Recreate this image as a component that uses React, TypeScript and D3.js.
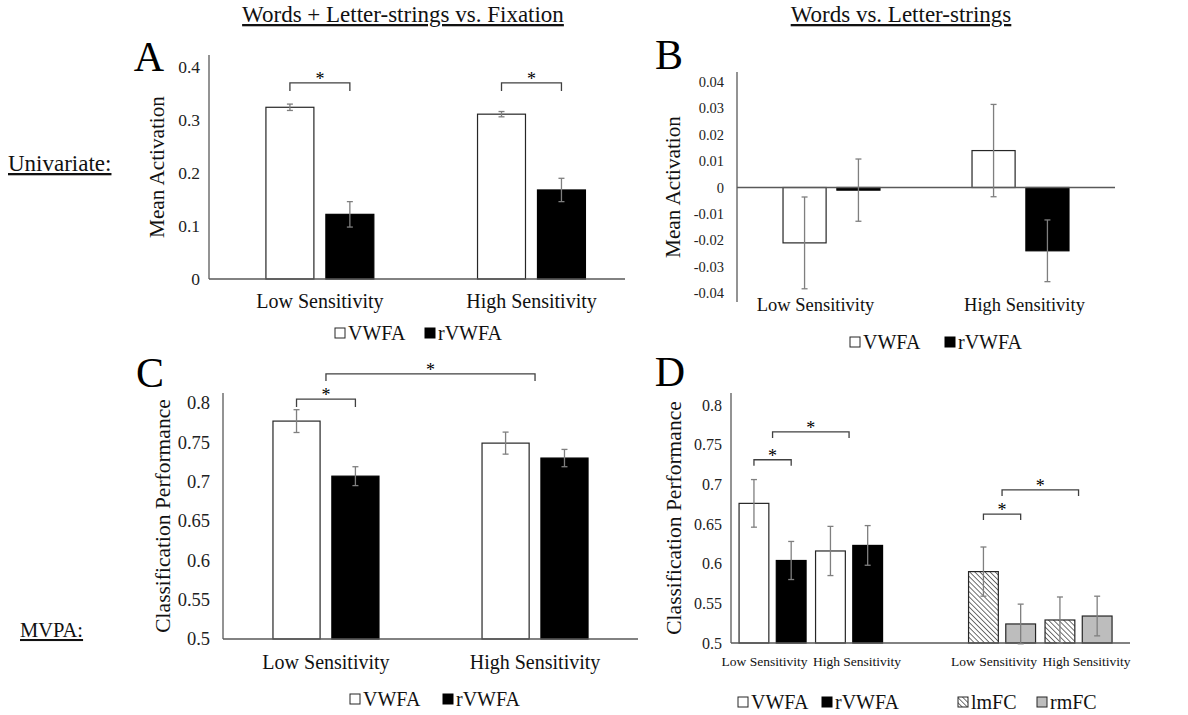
import React from 'react';
import * as d3 from 'd3';

// ---- data ----
const sensitivity = ['Low Sensitivity', 'High Sensitivity'];

// A: Words + Letter-strings vs. Fixation, univariate
const aVWFA = [0.324, 0.311];
const aVWFAErr = [0.006, 0.005];
const aRVWFA = [0.122, 0.168];
const aRVWFAErr = [0.024, 0.022];
const aTicks = [0, 0.1, 0.2, 0.3, 0.4];

// B: Words vs. Letter-strings, univariate
const bVWFA = [-0.021, 0.014];
const bVWFAErr = [0.0174, 0.0175];
const bRVWFA = [-0.001, -0.024];
const bRVWFAErr = [0.0118, 0.0117];
const bTicks = [-0.04, -0.03, -0.02, -0.01, 0, 0.01, 0.02, 0.03, 0.04];

// C: MVPA
const cVWFA = [0.777, 0.749];
const cVWFAErr = [0.0145, 0.014];
const cRVWFA = [0.707, 0.73];
const cRVWFAErr = [0.012, 0.011];
const mvpaTicks = [0.5, 0.55, 0.6, 0.65, 0.7, 0.75, 0.8];

// D: MVPA with frontal ROIs
const dVWFA = [0.676, 0.616];
const dVWFAErr = [0.03, 0.031];
const dRVWFA = [0.604, 0.623];
const dRVWFAErr = [0.024, 0.025];
const dLmFC = [0.59, 0.529];
const dLmFCErr = [0.031, 0.029];
const dRmFC = [0.524, 0.534];
const dRmFCErr = [0.025, 0.025];

const SERIF = "'Liberation Serif', 'Times New Roman', serif";

type Kind = 'white' | 'black' | 'hatch' | 'gray';
type Bar = { slot: string; sub: number; value: number; err: number; kind: Kind };
type Bracket = { from: [number, number]; to: [number, number]; level: number; drop: number };
type LegendItem = { label: string; kind: Kind; x: number };

function pairBars(slots: string[], s1: number[], e1: number[], k1: Kind, s2: number[], e2: number[], k2: Kind): Bar[] {
  const out: Bar[] = [];
  slots.forEach((slot, i) => {
    out.push({ slot, sub: 0, value: s1[i], err: e1[i], kind: k1 });
    out.push({ slot, sub: 1, value: s2[i], err: e2[i], kind: k2 });
  });
  return out;
}

const fillOf = (k: Kind) => (k === 'white' ? '#fff' : k === 'black' ? '#000' : k === 'gray' ? '#bdbdbd' : 'url(#hatch)');
const strokeOf = (k: Kind) => (k === 'black' ? '#000' : '#262626');

interface PanelCfg {
  letter: string;
  letterX: number;
  letterY: number;
  left: number;
  right: number;
  yDomain: [number, number];
  yRange: [number, number];
  axisTop: number;
  axisBottom: number;
  baseline: number;
  ticks: number[];
  tickSize: number;
  tickGap: number;
  slots: string[];
  slotLabels: string[];
  labelShift: number[];
  pi: number;
  po: number;
  align: number;
  bars: Bar[];
  brackets: Bracket[];
  yTitle: string;
  yTitleX: number;
  yTitleSize: number;
  xLabelY: number;
  xLabelSize: number;
  legend: LegendItem[];
  legendY: number;
}

function Panel({ c }: { c: PanelCfg }) {
  const y = d3.scaleLinear().domain(c.yDomain).range(c.yRange);
  const x = d3.scaleBand<string>().domain(c.slots).range([c.left, c.right])
    .paddingInner(c.pi).paddingOuter(c.po).align(c.align);
  const sub = d3.scaleBand<number>().domain([0, 1]).range([0, x.bandwidth()]).paddingInner(0.2);
  const cx = (slotIdx: number, s: number) => {
    const x0 = x(c.slots[slotIdx])!;
    return s < 0 ? x0 + x.bandwidth() / 2 : x0 + sub(s)! + sub.bandwidth() / 2;
  };
  const y0 = y(c.baseline);
  const yMid = (c.axisTop + c.axisBottom) / 2;
  return (
    <g>
      <text x={c.letterX} y={c.letterY} fontSize={42} textAnchor="middle" fontFamily={SERIF}>{c.letter}</text>
      <text transform={`translate(${c.yTitleX},${yMid}) rotate(-90)`} textAnchor="middle" dy="0.35em"
        fontSize={c.yTitleSize} fontFamily={SERIF} fill="#111">{c.yTitle}</text>
      {c.ticks.map((t) => (
        <text key={t} x={c.left - c.tickGap} y={y(t)} dy="0.35em" textAnchor="end" fontSize={c.tickSize}
          fontFamily={SERIF} fill="#222">{String(t)}</text>
      ))}
      {c.bars.map((b, i) => {
        const bx = x(b.slot)! + sub(b.sub)!;
        const top = Math.min(y(b.value), y0);
        const h = Math.max(Math.abs(y(b.value) - y0), 1);
        return (
          <rect key={i} x={bx} y={top} width={sub.bandwidth()} height={h}
            fill={fillOf(b.kind)} stroke={strokeOf(b.kind)} strokeWidth={1.2} />
        );
      })}
      {/* axes */}
      <line x1={c.left} x2={c.left} y1={c.axisTop} y2={c.axisBottom} stroke="#595959" strokeWidth={1.3} />
      <line x1={c.left} x2={c.right} y1={y0} y2={y0} stroke="#595959" strokeWidth={1.3} />
      {c.bars.map((b, i) => {
        const ex = x(b.slot)! + sub(b.sub)! + sub.bandwidth() / 2;
        const yHi = y(b.value + b.err);
        const yLo = y(b.value - b.err);
        return (
          <g key={'e' + i} stroke="#7f7f7f" strokeWidth={1.3}>
            <line x1={ex} x2={ex} y1={yHi} y2={yLo} />
            <line x1={ex - 3} x2={ex + 3} y1={yHi} y2={yHi} />
            <line x1={ex - 3} x2={ex + 3} y1={yLo} y2={yLo} />
          </g>
        );
      })}
      {c.brackets.map((br, i) => {
        const x1 = cx(br.from[0], br.from[1]);
        const x2 = cx(br.to[0], br.to[1]);
        const by = y(br.level);
        return (
          <g key={'b' + i}>
            <path d={`M${x1},${by + br.drop}V${by}H${x2}V${by + br.drop}`} fill="none" stroke="#404040" strokeWidth={1.3} />
            <text x={(x1 + x2) / 2} y={by + 2} textAnchor="middle" fontSize={18} fontFamily={SERIF}>*</text>
          </g>
        );
      })}
      {c.slotLabels.map((l, i) => l ? (
        <text key={'l' + i} x={x(c.slots[i])! + x.bandwidth() / 2 + c.labelShift[i]} y={c.xLabelY}
          textAnchor="middle" fontSize={c.xLabelSize} fontFamily={SERIF} fill="#111">{l}</text>
      ) : null)}
      {c.legend.map((it) => (
        <g key={it.label}>
          <rect x={it.x} y={c.legendY - 5} width={10} height={10} fill={fillOf(it.kind)} stroke={strokeOf(it.kind)} strokeWidth={1} />
          <text x={it.x + 13} y={c.legendY} dy="0.35em" fontSize={20} fontFamily={SERIF} fill="#111">{it.label}</text>
        </g>
      ))}
    </g>
  );
}

const abSlots = ['low', 'high'];
const dSlots = ['low1', 'high1', 'gap', 'low2', 'high2'];

const dBars: Bar[] = [
  ...pairBars(['low1', 'high1'], dVWFA, dVWFAErr, 'white', dRVWFA, dRVWFAErr, 'black'),
  ...pairBars(['low2', 'high2'], dLmFC, dLmFCErr, 'hatch', dRmFC, dRmFCErr, 'gray'),
];

const panels: PanelCfg[] = [
  {
    letter: 'A', letterX: 149, letterY: 71,
    left: 209, right: 625, yDomain: [0, 0.4], yRange: [279, 67], axisTop: 55, axisBottom: 279, baseline: 0,
    ticks: aTicks, tickSize: 17.5, tickGap: 9,
    slots: abSlots, slotLabels: sensitivity, labelShift: [0, 0], pi: 0.49, po: 0.228, align: 0.59,
    bars: pairBars(abSlots, aVWFA, aVWFAErr, 'white', aRVWFA, aRVWFAErr, 'black'),
    brackets: [
      { from: [0, 0], to: [0, 1], level: 0.37, drop: 8 },
      { from: [1, 0], to: [1, 1], level: 0.37, drop: 8 },
    ],
    yTitle: 'Mean Activation', yTitleX: 157, yTitleSize: 21.2, xLabelY: 308, xLabelSize: 20,
    legend: [{ label: 'VWFA', kind: 'white', x: 335 }, { label: 'rVWFA', kind: 'black', x: 425 }], legendY: 333,
  },
  {
    letter: 'B', letterX: 669, letterY: 69,
    left: 737, right: 1115, yDomain: [-0.04, 0.04], yRange: [293, 82], axisTop: 72, axisBottom: 302, baseline: 0,
    ticks: bTicks, tickSize: 14.5, tickGap: 13,
    slots: abSlots, slotLabels: sensitivity, labelShift: [-16, 4], pi: 0.487, po: 0.2435, align: 0.5,
    bars: pairBars(abSlots, bVWFA, bVWFAErr, 'white', bRVWFA, bRVWFAErr, 'black'),
    brackets: [],
    yTitle: 'Mean Activation', yTitleX: 673, yTitleSize: 21.2, xLabelY: 311, xLabelSize: 18.5,
    legend: [{ label: 'VWFA', kind: 'white', x: 850 }, { label: 'rVWFA', kind: 'black', x: 945 }], legendY: 342,
  },
  {
    letter: 'C', letterX: 150, letterY: 387,
    left: 223, right: 638, yDomain: [0.5, 0.8], yRange: [639, 403], axisTop: 393, axisBottom: 639, baseline: 0.5,
    ticks: mvpaTicks, tickSize: 18.5, tickGap: 13,
    slots: abSlots, slotLabels: sensitivity, labelShift: [0, 0], pi: 0.493, po: 0.239, align: 0.5,
    bars: pairBars(abSlots, cVWFA, cVWFAErr, 'white', cRVWFA, cRVWFAErr, 'black'),
    brackets: [
      { from: [0, 0], to: [0, 1], level: 0.805, drop: 8 },
      { from: [0, -1], to: [1, -1], level: 0.837, drop: 7 },
    ],
    yTitle: 'Classification Performance', yTitleX: 162, yTitleSize: 21.5, xLabelY: 669, xLabelSize: 20,
    legend: [{ label: 'VWFA', kind: 'white', x: 350 }, { label: 'rVWFA', kind: 'black', x: 443 }], legendY: 699,
  },
  {
    letter: 'D', letterX: 670, letterY: 386,
    left: 731, right: 1130, yDomain: [0.5, 0.8], yRange: [643, 405], axisTop: 393, axisBottom: 643, baseline: 0.5,
    ticks: mvpaTicks, tickSize: 16, tickGap: 9,
    slots: dSlots, slotLabels: [sensitivity[0], sensitivity[1], '', sensitivity[0], sensitivity[1]],
    labelShift: [-8, 8, 0, -8, 8], pi: 0.124, po: 0.17, align: 0.31,
    bars: dBars,
    brackets: [
      { from: [0, 0], to: [0, 1], level: 0.731, drop: 6 },
      { from: [0, -1], to: [1, -1], level: 0.766, drop: 6 },
      { from: [3, 0], to: [3, 1], level: 0.6625, drop: 6 },
      { from: [3, -1], to: [4, -1], level: 0.693, drop: 6 },
    ],
    yTitle: 'Classification Performance', yTitleX: 673, yTitleSize: 21.5, xLabelY: 666, xLabelSize: 13.5,
    legend: [
      { label: 'VWFA', kind: 'white', x: 738 },
      { label: 'rVWFA', kind: 'black', x: 822 },
      { label: 'lmFC', kind: 'hatch', x: 958 },
      { label: 'rmFC', kind: 'gray', x: 1037 },
    ],
    legendY: 702,
  },
];

export default function App() {
  return (
    <svg width={1188} height={715} style={{ position: 'absolute', left: 0, top: 0, background: '#fff' }}>
      <defs>
        <pattern id="hatch" patternUnits="userSpaceOnUse" width={3.6} height={3.6} patternTransform="rotate(-45)">
          <rect width={3.6} height={3.6} fill="#fff" />
          <line x1={0} y1={0} x2={0} y2={3.6} stroke="#333" strokeWidth={1.4} />
        </pattern>
      </defs>
      <rect width={1188} height={715} fill="#fff" />
      <text x={403} y={22} textAnchor="middle" fontSize={23} fontFamily={SERIF} textDecoration="underline" fill="#111">
        Words + Letter-strings vs. Fixation
      </text>
      <text x={901} y={22} textAnchor="middle" fontSize={23} fontFamily={SERIF} textDecoration="underline" fill="#111">
        Words vs. Letter-strings
      </text>
      <text x={8} y={171} fontSize={23} fontFamily={SERIF} textDecoration="underline" fill="#111">Univariate:</text>
      <text x={20} y={637} fontSize={20.5} fontFamily={SERIF} textDecoration="underline" fill="#111">MVPA:</text>
      {panels.map((p) => <Panel key={p.letter} c={p} />)}
    </svg>
  );
}
